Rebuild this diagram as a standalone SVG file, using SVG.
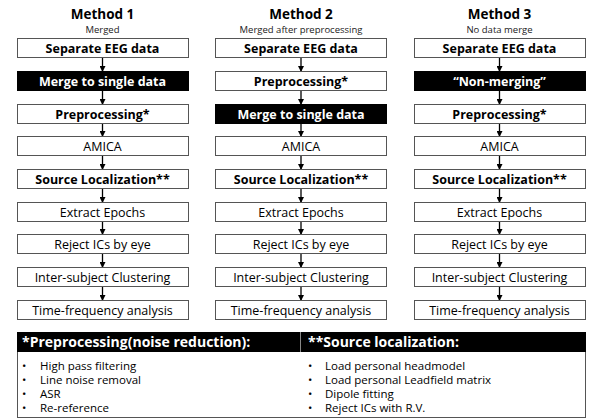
<svg xmlns="http://www.w3.org/2000/svg" width="589" height="420" viewBox="0 0 589 420">
<defs>
<marker id="ah" markerWidth="6" markerHeight="6" refX="5" refY="3" orient="auto" markerUnits="userSpaceOnUse">
<path d="M0,0 L6,3 L0,6 Z" fill="#000"/>
</marker>
<style>
text{font-family:"Open Sans","Noto Sans",sans-serif;fill:#000}
.t{font-size:13.5px;font-weight:bold;text-anchor:middle}
.s{font-size:9.5px;text-anchor:middle;fill:#222}
.b{fill:#fff;stroke:#555;stroke-width:1}
.k{fill:#000;stroke:#000;stroke-width:1}
.lb{font-size:12.5px;font-weight:bold;text-anchor:middle}
.lr{font-size:12.5px;text-anchor:middle}
.w{fill:#fff}
.c line{stroke:#000;stroke-width:1.3;marker-end:url(#ah)}
.li{font-size:11.5px}
.hd{font-size:14px;font-weight:bold;fill:#fff}
</style>
</defs>
<g id="titles">
<text class="t" x="102.5" y="18.5">Method 1</text>
<text class="s" x="102.5" y="32.5">Merged</text>
<text class="t" x="301" y="18.5">Method 2</text>
<text class="s" x="301" y="32.5">Merged after preprocessing</text>
<text class="t" x="499.5" y="18.5">Method 3</text>
<text class="s" x="499.5" y="32.5">No data merge</text>
</g>
<g class="c" id="connectors">
<line x1="102.5" y1="58" x2="102.5" y2="71"/><line x1="102.5" y1="91" x2="102.5" y2="104"/><line x1="102.5" y1="124" x2="102.5" y2="136"/><line x1="102.5" y1="156" x2="102.5" y2="169"/><line x1="102.5" y1="189" x2="102.5" y2="202"/><line x1="102.5" y1="222" x2="102.5" y2="234"/><line x1="102.5" y1="254" x2="102.5" y2="267"/><line x1="102.5" y1="287" x2="102.5" y2="300"/>
<line x1="301" y1="58" x2="301" y2="71"/><line x1="301" y1="91" x2="301" y2="104"/><line x1="301" y1="124" x2="301" y2="136"/><line x1="301" y1="156" x2="301" y2="169"/><line x1="301" y1="189" x2="301" y2="202"/><line x1="301" y1="222" x2="301" y2="234"/><line x1="301" y1="254" x2="301" y2="267"/><line x1="301" y1="287" x2="301" y2="300"/>
<line x1="499.5" y1="58" x2="499.5" y2="71"/><line x1="499.5" y1="91" x2="499.5" y2="104"/><line x1="499.5" y1="124" x2="499.5" y2="136"/><line x1="499.5" y1="156" x2="499.5" y2="169"/><line x1="499.5" y1="189" x2="499.5" y2="202"/><line x1="499.5" y1="222" x2="499.5" y2="234"/><line x1="499.5" y1="254" x2="499.5" y2="267"/><line x1="499.5" y1="287" x2="499.5" y2="300"/>
</g>
<g id="m1">
<g id="m1-1"><rect class="b" x="17.5" y="38.5" width="171" height="19"/><text class="lb" x="102.5" y="53">Separate EEG data</text></g>
<g id="m1-2"><rect class="k" x="17.5" y="71.5" width="171" height="19"/><text class="lb w" x="102.5" y="86">Merge to single data</text></g>
<g id="m1-3"><rect class="b" x="17.5" y="104.5" width="171" height="19"/><text class="lb" x="102.5" y="119">Preprocessing*</text></g>
<g id="m1-4"><rect class="b" x="17.5" y="136.5" width="171" height="19"/><text class="lr" x="102.5" y="151">AMICA</text></g>
<g id="m1-5"><rect class="b" x="17.5" y="169.5" width="171" height="19"/><text class="lb" x="102.5" y="184">Source Localization**</text></g>
<g id="m1-6"><rect class="b" x="17.5" y="202.5" width="171" height="19"/><text class="lr" x="102.5" y="217">Extract Epochs</text></g>
<g id="m1-7"><rect class="b" x="17.5" y="234.5" width="171" height="19"/><text class="lr" x="102.5" y="249">Reject ICs by eye</text></g>
<g id="m1-8"><rect class="b" x="17.5" y="267.5" width="171" height="19"/><text class="lr" x="102.5" y="282">Inter-subject Clustering</text></g>
<g id="m1-9"><rect class="b" x="17.5" y="300.5" width="171" height="19"/><text class="lr" x="102.5" y="315">Time-frequency analysis</text></g>
</g>
<g id="m2">
<g id="m2-1"><rect class="b" x="215.5" y="38.5" width="171" height="19"/><text class="lb" x="301" y="53">Separate EEG data</text></g>
<g id="m2-2"><rect class="b" x="215.5" y="71.5" width="171" height="19"/><text class="lb" x="301" y="86">Preprocessing*</text></g>
<g id="m2-3"><rect class="k" x="215.5" y="104.5" width="171" height="19"/><text class="lb w" x="301" y="119">Merge to single data</text></g>
<g id="m2-4"><rect class="b" x="215.5" y="136.5" width="171" height="19"/><text class="lr" x="301" y="151">AMICA</text></g>
<g id="m2-5"><rect class="b" x="215.5" y="169.5" width="171" height="19"/><text class="lb" x="301" y="184">Source Localization**</text></g>
<g id="m2-6"><rect class="b" x="215.5" y="202.5" width="171" height="19"/><text class="lr" x="301" y="217">Extract Epochs</text></g>
<g id="m2-7"><rect class="b" x="215.5" y="234.5" width="171" height="19"/><text class="lr" x="301" y="249">Reject ICs by eye</text></g>
<g id="m2-8"><rect class="b" x="215.5" y="267.5" width="171" height="19"/><text class="lr" x="301" y="282">Inter-subject Clustering</text></g>
<g id="m2-9"><rect class="b" x="215.5" y="300.5" width="171" height="19"/><text class="lr" x="301" y="315">Time-frequency analysis</text></g>
</g>
<g id="m3">
<g id="m3-1"><rect class="b" x="414.5" y="38.5" width="171" height="19"/><text class="lb" x="499.5" y="53">Separate EEG data</text></g>
<g id="m3-2"><rect class="k" x="414.5" y="71.5" width="171" height="19"/><text class="lb w" x="499.5" y="86">“Non-merging”</text></g>
<g id="m3-3"><rect class="b" x="414.5" y="104.5" width="171" height="19"/><text class="lb" x="499.5" y="119">Preprocessing*</text></g>
<g id="m3-4"><rect class="b" x="414.5" y="136.5" width="171" height="19"/><text class="lr" x="499.5" y="151">AMICA</text></g>
<g id="m3-5"><rect class="b" x="414.5" y="169.5" width="171" height="19"/><text class="lb" x="499.5" y="184">Source Localization**</text></g>
<g id="m3-6"><rect class="b" x="414.5" y="202.5" width="171" height="19"/><text class="lr" x="499.5" y="217">Extract Epochs</text></g>
<g id="m3-7"><rect class="b" x="414.5" y="234.5" width="171" height="19"/><text class="lr" x="499.5" y="249">Reject ICs by eye</text></g>
<g id="m3-8"><rect class="b" x="414.5" y="267.5" width="171" height="19"/><text class="lr" x="499.5" y="282">Inter-subject Clustering</text></g>
<g id="m3-9"><rect class="b" x="414.5" y="300.5" width="171" height="19"/><text class="lr" x="499.5" y="315">Time-frequency analysis</text></g>
</g>
<g id="legend">
<rect class="b" x="17.5" y="351.5" width="568" height="66"/>
<rect x="17" y="332" width="569" height="20" fill="#000"/>
<line x1="300.5" y1="332" x2="300.5" y2="352" stroke="#888" stroke-width="1"/>
<text class="hd" x="22" y="347">*Preprocessing(noise reduction):</text>
<text class="hd" x="308" y="347">**Source localization:</text>
<g class="li">
<text x="22" y="370">•</text><text x="40" y="370">High pass filtering</text>
<text x="22" y="384">•</text><text x="40" y="384">Line noise removal</text>
<text x="22" y="398">•</text><text x="40" y="398">ASR</text>
<text x="22" y="412">•</text><text x="40" y="412">Re-reference</text>
<text x="308" y="370">•</text><text x="325" y="370">Load personal headmodel</text>
<text x="308" y="384">•</text><text x="325" y="384">Load personal Leadfield matrix</text>
<text x="308" y="398">•</text><text x="325" y="398">Dipole fitting</text>
<text x="308" y="412">•</text><text x="325" y="412">Reject ICs with R.V.</text>
</g>
</g>
</svg>
